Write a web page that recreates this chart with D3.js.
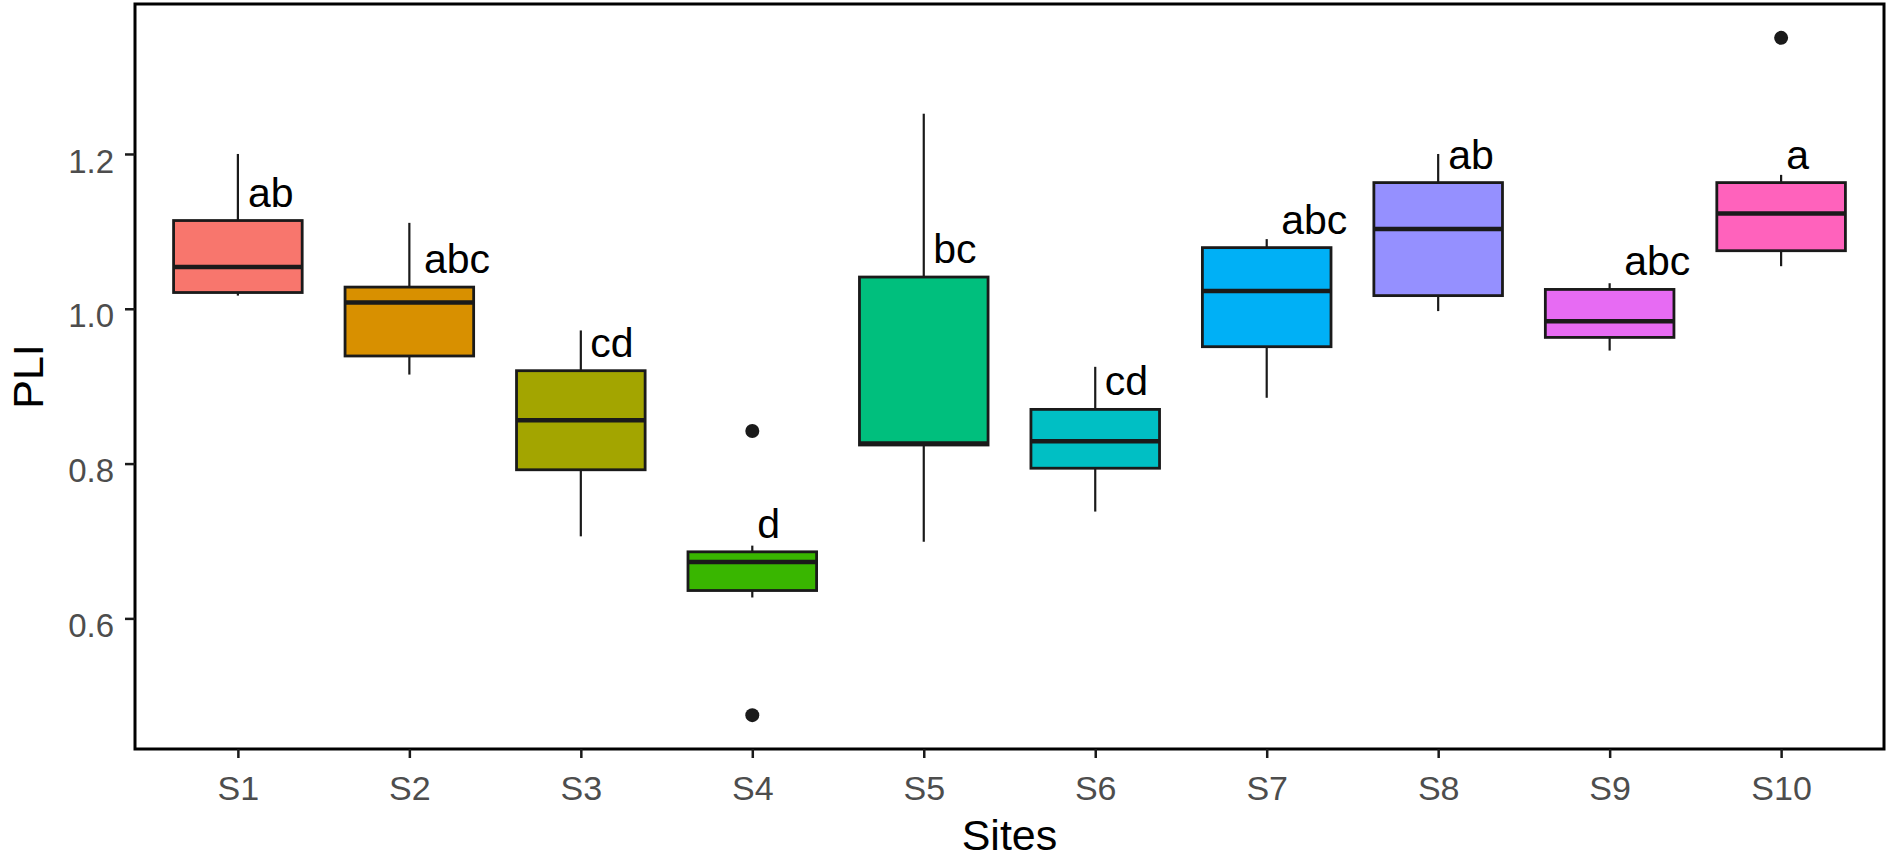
<!DOCTYPE html>
<html>
<head>
<meta charset="utf-8">
<script src="https://cdn.jsdelivr.net/npm/d3@7"></script>
<style>
    body { margin: 0; background: #ffffff; }
    text { font-family: "Liberation Sans", Arial, sans-serif; }
</style>
</head>
<body>
<div id="chart"></div>
<script>

// box statistics
const sites = ["S1", "S2", "S3", "S4", "S5", "S6", "S7", "S8", "S9", "S10"];
const whiskerLow  = [1.017, 0.915, 0.706, 0.627, 0.699, 0.738, 0.885, 0.997, 0.946, 1.055];
const lowerQ      = [1.021, 0.939, 0.792, 0.636, 0.824, 0.794, 0.951, 1.017, 0.963, 1.075];
const medians     = [1.054, 1.008, 0.856, 0.673, 0.826, 0.829, 1.023, 1.103, 0.984, 1.123];
const upperQ      = [1.114, 1.028, 0.920, 0.686, 1.041, 0.870, 1.079, 1.163, 1.025, 1.163];
const whiskerHigh = [1.200, 1.111, 0.972, 0.694, 1.252, 0.925, 1.090, 1.200, 1.033, 1.173];
const outliers    = [[], [], [], [0.842, 0.475], [], [], [], [], [], [1.350]];
const letters     = ["ab", "abc", "cd", "d", "bc", "cd", "abc", "ab", "abc", "a"];
const fills = ["#F8766D", "#D89000", "#A3A500", "#39B600", "#00BF7D",
               "#00BFC4", "#00B0F6", "#9590FF", "#E76BF3", "#FF62BC"];
const yTicks = [0.6, 0.8, 1.0, 1.2];

const W = 1890, H = 867;
const panel = {left: 135, right: 1884, top: 4, bottom: 749};

let svg = d3.select("#chart").append("svg")
    .attr("width", W)
    .attr("height", H)
    .style("display", "block");

svg.append("rect").attr("width", W).attr("height", H).attr("fill", "#ffffff");

// x: discrete, ggplot style 0.6 expansion each side
let x = d3.scalePoint()
    .domain(sites)
    .range([panel.left, panel.right])
    .padding(0.6);
let boxW = x.step() * 0.75;

// y: 5% expansion of the data range
let allVals = whiskerLow.concat(whiskerHigh, outliers.flat());
let yMin = d3.min(allVals), yMax = d3.max(allVals);
let pad = (yMax - yMin) * 0.05;
let y = d3.scaleLinear()
    .domain([yMin - pad, yMax + pad])
    .range([panel.bottom, panel.top]);

let rows = sites.map((s, i) => ({
    site: s, lo: whiskerLow[i], q1: lowerQ[i], med: medians[i],
    q3: upperQ[i], hi: whiskerHigh[i], out: outliers[i], label: letters[i], fill: fills[i]
}));

let boxes = svg.append("g").selectAll("g.box")
    .data(rows)
    .enter().append("g")
    .attr("class", "box");

// whiskers
boxes.append("line")
    .attr("x1", d => x(d.site)).attr("x2", d => x(d.site))
    .attr("y1", d => y(d.q3)).attr("y2", d => y(d.hi))
    .attr("stroke", "#1a1a1a").attr("stroke-width", 2.2);
boxes.append("line")
    .attr("x1", d => x(d.site)).attr("x2", d => x(d.site))
    .attr("y1", d => y(d.q1)).attr("y2", d => y(d.lo))
    .attr("stroke", "#1a1a1a").attr("stroke-width", 2.2);

// box
boxes.append("rect")
    .attr("x", d => x(d.site) - boxW / 2)
    .attr("width", boxW)
    .attr("y", d => y(d.q3))
    .attr("height", d => y(d.q1) - y(d.q3))
    .attr("fill", d => d.fill)
    .attr("stroke", "#1a1a1a")
    .attr("stroke-width", 2.8);

// median
boxes.append("line")
    .attr("x1", d => x(d.site) - boxW / 2).attr("x2", d => x(d.site) + boxW / 2)
    .attr("y1", d => y(d.med)).attr("y2", d => y(d.med))
    .attr("stroke", "#1a1a1a").attr("stroke-width", 4.5);

// outliers
boxes.selectAll("circle")
    .data(d => d.out.map(v => ({site: d.site, v: v})))
    .enter().append("circle")
    .attr("cx", d => x(d.site))
    .attr("cy", d => y(d.v))
    .attr("r", 7)
    .attr("fill", "#1a1a1a");

// significance letters
boxes.append("text")
    .attr("class", "letter")
    .attr("x", d => x(d.site))
    .attr("y", d => y(d.q3) - 14)
    .attr("font-size", 41)
    .attr("fill", "#000")
    .text(d => d.label)
    .attr("dx", function () { return this.getComputedTextLength() * 0.22; });

// panel border
svg.append("rect")
    .attr("x", panel.left).attr("y", panel.top)
    .attr("width", panel.right - panel.left)
    .attr("height", panel.bottom - panel.top)
    .attr("fill", "none")
    .attr("stroke", "#000")
    .attr("stroke-width", 3);

// y axis
let yAxis = d3.axisLeft(y)
    .tickValues(yTicks)
    .tickFormat(d3.format(".1f"))
    .tickSize(10)
    .tickPadding(11);
let yG = svg.append("g")
    .attr("transform", `translate(${panel.left},0)`)
    .call(yAxis);
yG.select(".domain").remove();
yG.selectAll(".tick line").attr("stroke", "#1a1a1a").attr("stroke-width", 2.5);
yG.selectAll(".tick text")
    .attr("font-size", 33)
    .attr("font-family", "'Liberation Sans', Arial, sans-serif")
    .attr("fill", "#4D4D4D")
    .attr("dy", "0.55em");

// x axis
let xAxis = d3.axisBottom(x)
    .tickSize(9)
    .tickPadding(18);
let xG = svg.append("g")
    .attr("transform", `translate(0,${panel.bottom})`)
    .call(xAxis);
xG.select(".domain").remove();
xG.selectAll(".tick line").attr("stroke", "#1a1a1a").attr("stroke-width", 2.5);
xG.selectAll(".tick text")
    .attr("font-size", 34)
    .attr("font-family", "'Liberation Sans', Arial, sans-serif")
    .attr("fill", "#4D4D4D");

// axis titles
svg.append("text")
    .attr("x", (panel.left + panel.right) / 2)
    .attr("y", 850)
    .attr("text-anchor", "middle")
    .attr("font-size", 43)
    .attr("fill", "#000")
    .text("Sites");

svg.append("text")
    .attr("transform", `translate(43,${(panel.top + panel.bottom) / 2}) rotate(-90)`)
    .attr("text-anchor", "middle")
    .attr("font-size", 43)
    .attr("fill", "#000")
    .text("PLI");

</script>
</body>
</html>
